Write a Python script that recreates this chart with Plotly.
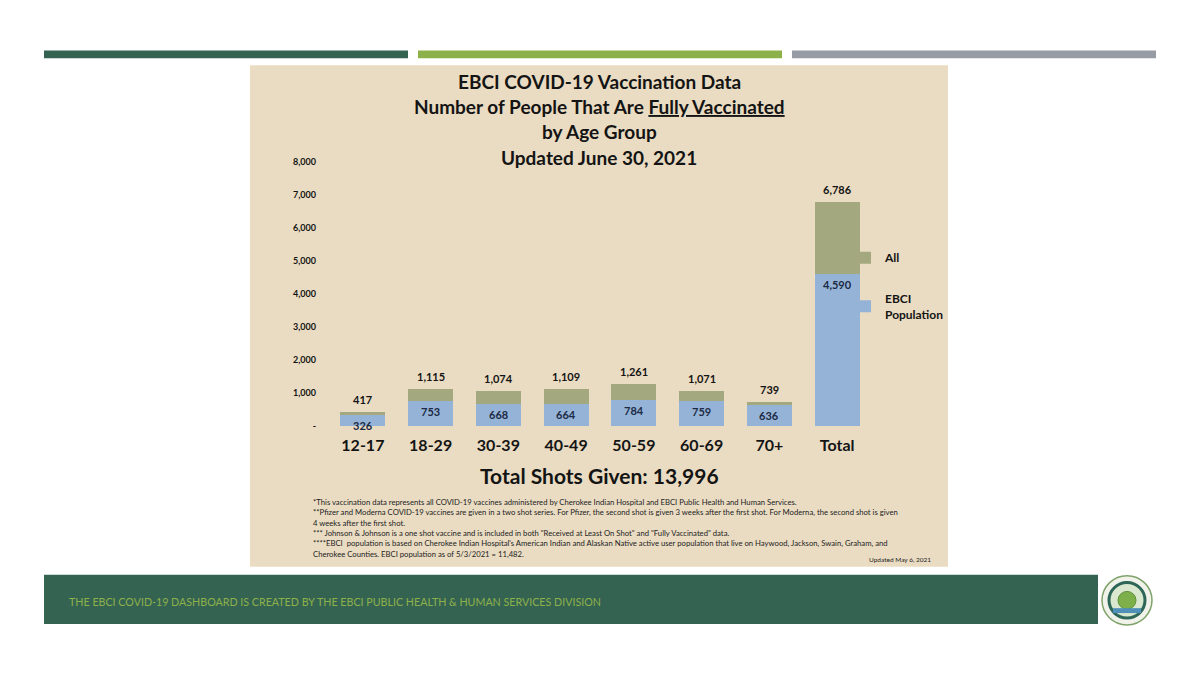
import plotly.graph_objects as go

# ===== datos =====
age_groups = ["12-17", "18-29", "30-39", "40-49", "50-59", "60-69", "70+", "Total"]
all_people = [417, 1115, 1074, 1109, 1261, 1071, 739, 6786]
ebci_pop   = [326, 753, 668, 664, 784, 759, 636, 4590]
y_ticks      = [0, 1000, 2000, 3000, 4000, 5000, 6000, 7000, 8000]
y_tick_texts = ["-", "1,000", "2,000", "3,000", "4,000", "5,000", "6,000", "7,000", "8,000"]

title_lines = [
    "EBCI COVID-19 Vaccination Data",
    "Number of People That Are <u>Fully Vaccinated</u>",
    "by Age Group",
    "Updated June 30, 2021",
]
total_shots = "Total Shots Given: 13,996"
footnotes = [
    "*This vaccination data represents all COVID-19 vaccines administered by Cherokee Indian Hospital and EBCI Public Health and Human Services.",
    "**Pfizer and Moderna COVID-19 vaccines are given in a two shot series. For Pfizer, the second shot is given 3 weeks after the first shot. For Moderna, the second shot is given",
    "4 weeks after the first shot.",
    "*** Johnson & Johnson is a one shot vaccine and is included in both \"Received at Least On Shot\" and \"Fully Vaccinated\" data.",
    "****EBCI  population is based on Cherokee Indian Hospital's American Indian and Alaskan Native active user population that live on Haywood, Jackson, Swain, Graham, and",
    "Cherokee Counties. EBCI population as of 5/3/2021 = 11,482.",
]
footer_text = "THE EBCI COVID-19 DASHBOARD IS CREATED BY THE EBCI PUBLIC HEALTH & HUMAN SERVICES DIVISION"

# ===== paleta =====
BLUE   = "#95B3D7"
OLIVE  = "#A3A87E"
BEIGE  = "#EADCC2"
DARK   = "#141414"
NAVY   = "#1B2A44"
FOREST = "#356352"
LIME   = "#8DB14A"
GREY   = "#979CA4"
FONT   = "Lato"

W, H = 1200, 675
OFF = 8  # la página agrega 8px de margen al div
def px(x): return (x - OFF) / W
def py(y): return 1 - (y - OFF) / H

rest = [a - e for a, e in zip(all_people, ebci_pop)]

fig = go.Figure()
fig.add_trace(go.Bar(x=age_groups, y=ebci_pop, name="EBCI<br>Population",
                     marker=dict(color=BLUE, line=dict(width=0)),
                     legendgroup="e", legendrank=2, hoverinfo="skip"))
fig.add_trace(go.Bar(x=age_groups, y=rest, name="All",
                     marker=dict(color=OLIVE, line=dict(width=0)),
                     legendgroup="a", legendrank=1, hoverinfo="skip"))

shapes = []
# barras decorativas superiores
for x0, x1, c in [(44, 408, FOREST), (418, 782, LIME), (792, 1156, GREY)]:
    shapes.append(dict(type="rect", xref="paper", yref="paper", x0=px(x0), x1=px(x1),
                       y0=py(53), y1=py(45), fillcolor=c, line=dict(width=0), layer="below"))
# panel beige
shapes.append(dict(type="rect", xref="paper", yref="paper", x0=px(250), x1=px(948),
                   y0=py(570), y1=py(60), fillcolor=BEIGE, line=dict(width=0), layer="below"))
# banda inferior
shapes.append(dict(type="rect", xref="paper", yref="paper", x0=px(44), x1=px(1098),
                   y0=py(628), y1=py(578), fillcolor=FOREST, line=dict(width=0), layer="below"))
# logo (sello circular)
cx, cy = 1127, 604
for r, fill, lc, lw in [(25, "#F1F3EA", "#7FA36A", 1.5), (18, "#D9E8CF", "#2E6658", 3), (9, "#7DB04A", "#5E8F3A", 1)]:
    shapes.append(dict(type="circle", xref="paper", yref="paper",
                       x0=px(cx - r), x1=px(cx + r), y0=py(cy + r), y1=py(cy - r),
                       fillcolor=fill, line=dict(color=lc, width=lw)))
shapes.append(dict(type="rect", xref="paper", yref="paper", x0=px(cx - 14), x1=px(cx + 14),
                   y0=py(cy + 13), y1=py(cy + 8), fillcolor="#4F8FB8", line=dict(width=0)))

ann = []
for line, y in zip(title_lines, [77, 102, 127, 154]):
    ann.append(dict(text=line, xref="paper", yref="paper", x=px(599), y=py(y),
                    xanchor="center", yanchor="middle", showarrow=False,
                    font=dict(family=FONT, size=19, color=DARK, weight="bold")))
# etiquetas de valores
for cat, tot, e in zip(age_groups, all_people, ebci_pop):
    ann.append(dict(text=f"{tot:,}", x=cat, y=tot, xref="x", yref="y", yanchor="bottom",
                    yshift=4, showarrow=False,
                    font=dict(family=FONT, size=11, color=DARK, weight="bold")))
    ann.append(dict(text=f"{e:,}", x=cat, y=e, xref="x", yref="y", yanchor="top",
                    yshift=-2, showarrow=False,
                    font=dict(family=FONT, size=11, color=NAVY, weight="bold")))
ann.append(dict(text=total_shots, xref="paper", yref="paper", x=px(599), y=py(477),
                xanchor="center", yanchor="middle", showarrow=False,
                font=dict(family=FONT, size=21, color=DARK, weight="bold")))
for line, y in zip(footnotes, [504, 514.5, 525, 535.5, 546, 556.5]):
    ann.append(dict(text=line, xref="paper", yref="paper", x=px(311), y=py(y),
                    xanchor="left", yanchor="middle", showarrow=False,
                    font=dict(family=FONT, size=7.7, color="#222222")))
ann.append(dict(text="Updated May 6, 2021", xref="paper", yref="paper", x=px(933), y=py(563),
                xanchor="right", yanchor="middle", showarrow=False,
                font=dict(family=FONT, size=6.5, color="#222222")))
ann.append(dict(text=footer_text, xref="paper", yref="paper", x=px(67), y=py(605),
                xanchor="left", yanchor="middle", showarrow=False,
                font=dict(family=FONT, size=10.7, color=LIME)))

fig.update_layout(
    width=W, height=H, margin=dict(l=0, r=0, t=0, b=0),
    paper_bgcolor="white", plot_bgcolor="rgba(0,0,0,0)",
    barmode="stack", bargap=0.335,
    font=dict(family=FONT, color=DARK),
    showlegend=True,
    legend=dict(x=px(845), y=py(241), xanchor="left", yanchor="top",
                traceorder="grouped", tracegroupgap=22,
                bgcolor="rgba(0,0,0,0)", itemwidth=30,
                font=dict(family=FONT, size=12, color=DARK, weight="bold")),
    shapes=shapes, annotations=ann,
    xaxis=dict(domain=[px(329), px(871)], showgrid=False, showline=False, zeroline=False,
               ticks="", ticklabelstandoff=8,
               tickfont=dict(family=FONT, size=16, color=DARK, weight="bold")),
    yaxis=dict(domain=[py(427), py(158)], range=[0, 8000], showgrid=False, showline=False,
               zeroline=False, tickvals=y_ticks, ticktext=y_tick_texts, ticks="",
               ticklabelstandoff=12,
               tickfont=dict(family=FONT, size=9, color=DARK, weight="bold")),
)

fig.write_html("out.html")
